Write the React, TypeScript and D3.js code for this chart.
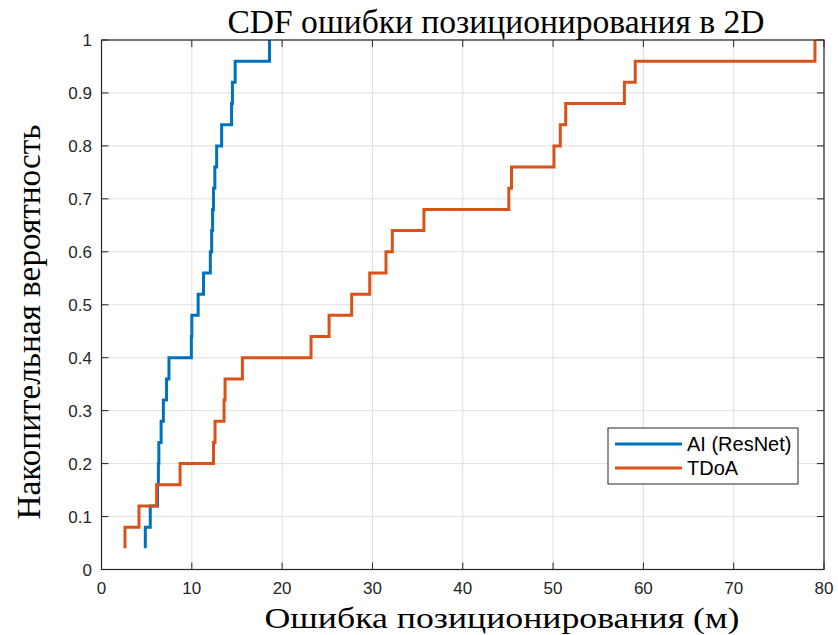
import React from 'react';
import * as d3 from 'd3';

// sorted errors, one per step of 1/25
const aiErrors = [4.85, 4.85, 5.4, 6.2, 6.3, 6.35, 6.6, 6.85, 7.2, 7.47, 9.95, 10.0, 10.7, 11.3, 12.05, 12.2, 12.3, 12.4, 12.55, 12.75, 13.3, 14.4, 14.5, 14.8, 18.6];
const tdoaErrors = [2.6, 2.6, 4.15, 6.1, 8.7, 12.4, 12.57, 13.57, 13.68, 15.6, 23.2, 25.2, 27.7, 29.7, 31.5, 32.2, 35.7, 45.1, 45.4, 50.1, 50.8, 51.4, 57.9, 59.1, 79.0];

const seriesNames = ['AI (ResNet)', 'TDoA'];
const seriesColors = ['#0072BD', '#D95319'];
const xTicks = [0, 10, 20, 30, 40, 50, 60, 70, 80];
const yTicks = [0, 0.1, 0.2, 0.3, 0.4, 0.5, 0.6, 0.7, 0.8, 0.9, 1];

const titleText = 'CDF ошибки позиционирования в 2D';
const xLabel = 'Ошибка позиционирования (м)';
const yLabel = 'Накопительная вероятность';

const W = 838, H = 635;
const m = { left: 101.5, right: 824, top: 40, bottom: 569.5 };

export default function App() {
    const x = d3.scaleLinear().domain([0, 80]).range([m.left, m.right]);
    const y = d3.scaleLinear().domain([0, 1]).range([m.bottom, m.top]);

    const line = d3.line<number[]>()
        .x(d => x(d[0]))
        .y(d => y(d[1]))
        .curve(d3.curveStepAfter);

    const toCdf = (errs: number[]) => errs.map((e, i) => [e, (i + 1) / errs.length]);
    const series = [aiErrors, tdoaErrors].map(toCdf);

    const tickLen = 7;
    const sans = 'Arial, "Liberation Sans", Helvetica, sans-serif';
    const serif = '"Times New Roman", "Liberation Serif", Times, serif';
    const axisColor = '#262626';
    const gridColor = '#dfdfdf';

    // legend
    const lg = { x: 608, y: 428, w: 190, h: 56 };

    return (
        <svg width={W} height={H} style={{ position: 'absolute', left: 0, top: 0, background: '#fff' }}>
            <rect x={0} y={0} width={W} height={H} fill="#fff" />
            {/* grid */}
            <g stroke={gridColor} strokeWidth={1}>
                {xTicks.map(t => (
                    <line key={'gx' + t} x1={x(t)} x2={x(t)} y1={m.top} y2={m.bottom} />
                ))}
                {yTicks.map(t => (
                    <line key={'gy' + t} x1={m.left} x2={m.right} y1={y(t)} y2={y(t)} />
                ))}
            </g>
            {/* data */}
            {series.map((s, i) => (
                <path key={i} d={line(s) || ''} fill="none" stroke={seriesColors[i]} strokeWidth={3} strokeLinejoin="miter" />
            ))}
            {/* box + ticks */}
            <rect x={m.left} y={m.top} width={m.right - m.left} height={m.bottom - m.top} fill="none" stroke={axisColor} strokeWidth={1.2} />
            <g stroke={axisColor} strokeWidth={1}>
                {xTicks.map(t => (
                    <g key={'tx' + t}>
                        <line x1={x(t)} x2={x(t)} y1={m.bottom} y2={m.bottom - tickLen} />
                        <line x1={x(t)} x2={x(t)} y1={m.top} y2={m.top + tickLen} />
                    </g>
                ))}
                {yTicks.map(t => (
                    <g key={'ty' + t}>
                        <line x1={m.left} x2={m.left + tickLen} y1={y(t)} y2={y(t)} />
                        <line x1={m.right} x2={m.right - tickLen} y1={y(t)} y2={y(t)} />
                    </g>
                ))}
            </g>
            {/* tick labels */}
            <g fontFamily={sans} fontSize={17} fill={axisColor}>
                {xTicks.map(t => (
                    <text key={'lx' + t} x={x(t)} y={594} textAnchor="middle">{t}</text>
                ))}
                {yTicks.map(t => (
                    <text key={'ly' + t} x={92} y={y(t) + 6} textAnchor="end">{d3.format('~g')(t)}</text>
                ))}
            </g>
            {/* titles */}
            <text x={496} y={33} textAnchor="middle" fontFamily={serif} fontSize={33} fill="#000"
                textLength={537} lengthAdjust="spacingAndGlyphs">{titleText}</text>
            <text x={502} y={628} textAnchor="middle" fontFamily={serif} fontSize={30} fill="#000"
                textLength={475} lengthAdjust="spacingAndGlyphs">{xLabel}</text>
            <text transform={`translate(40,322) rotate(-90)`} textAnchor="middle" fontFamily={serif} fontSize={34} fill="#000"
                textLength={395} lengthAdjust="spacingAndGlyphs">{yLabel}</text>
            {/* legend */}
            <g>
                <rect x={lg.x} y={lg.y} width={lg.w} height={lg.h} fill="#fff" stroke={axisColor} strokeWidth={1} />
                {seriesNames.map((n, i) => (
                    <g key={n}>
                        <line x1={lg.x + 7} x2={lg.x + 74} y1={lg.y + 16 + i * 24} y2={lg.y + 16 + i * 24} stroke={seriesColors[i]} strokeWidth={3} />
                        <text x={lg.x + 79} y={lg.y + 23 + i * 24} fontFamily={sans} fontSize={20} fill="#000">{n}</text>
                    </g>
                ))}
            </g>
        </svg>
    );
}
